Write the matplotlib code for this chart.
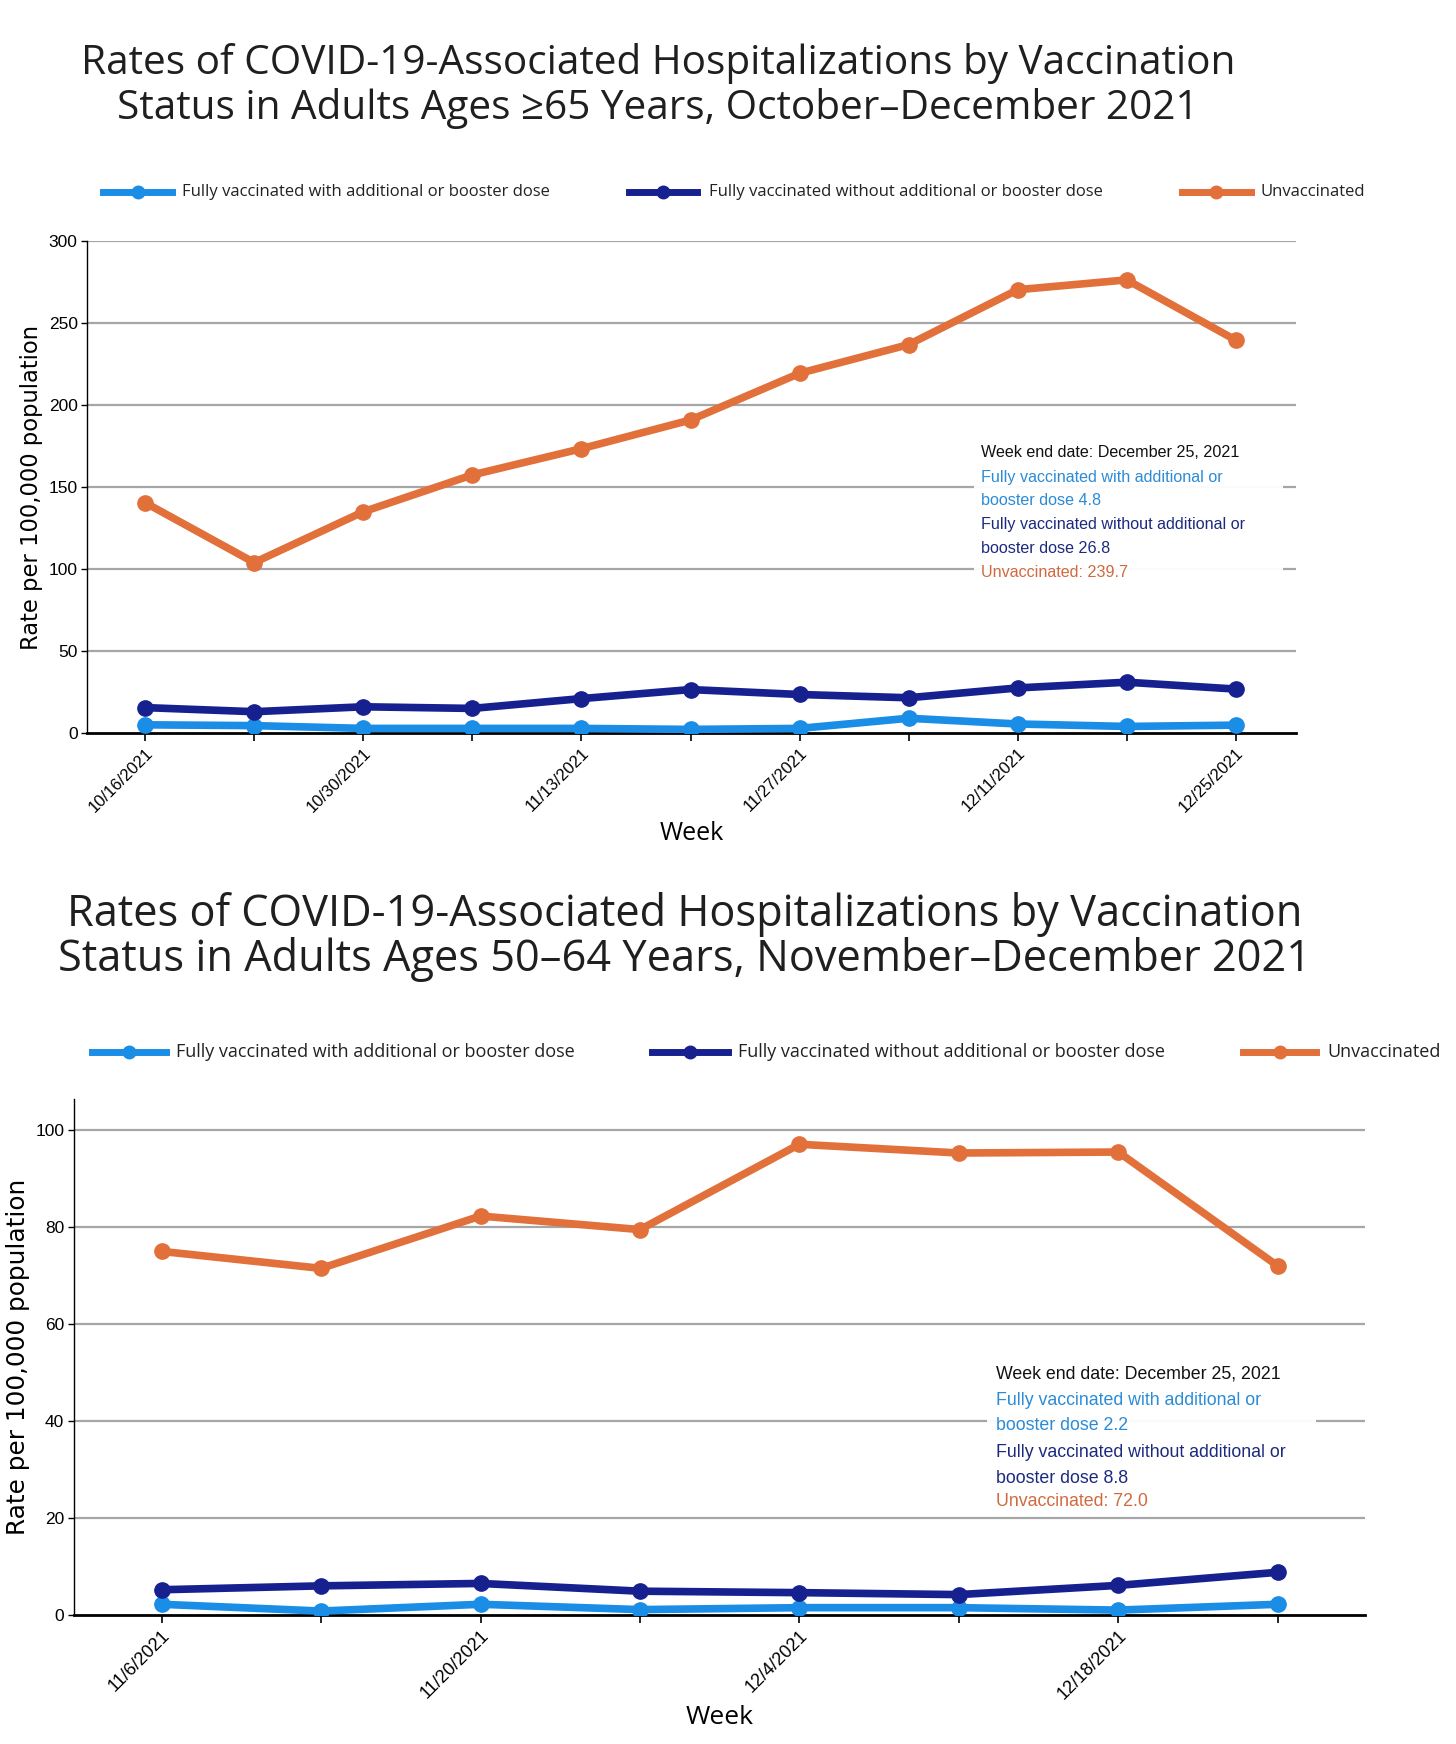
import numpy as np
import matplotlib.pyplot as plt
from matplotlib.lines import Line2D
from matplotlib.patches import Rectangle

# ---- data: adults 65+ ----
weeks_65 = ['10/16/2021', '10/23/2021', '10/30/2021', '11/6/2021', '11/13/2021', '11/20/2021',
            '11/27/2021', '12/4/2021', '12/11/2021', '12/18/2021', '12/25/2021']
booster_65 = [5.0, 4.5, 2.8, 2.8, 2.8, 2.2, 2.8, 9.0, 5.5, 4.0, 4.8]
no_booster_65 = [15.5, 13.0, 16.0, 15.0, 21.0, 26.5, 23.5, 21.5, 27.5, 31.0, 26.8]
unvacc_65 = [140.5, 104.0, 135.0, 157.5, 173.5, 191.0, 219.5, 237.0, 270.5, 276.5, 239.7]

# ---- data: adults 50-64 ----
weeks_50 = ['11/6/2021', '11/13/2021', '11/20/2021', '11/27/2021', '12/4/2021', '12/11/2021',
            '12/18/2021', '12/25/2021']
booster_50 = [2.2, 0.8, 2.2, 1.1, 1.5, 1.5, 1.0, 2.2]
no_booster_50 = [5.2, 6.0, 6.5, 4.9, 4.6, 4.2, 6.1, 8.8]
unvacc_50 = [75.0, 71.5, 82.3, 79.5, 97.1, 95.3, 95.5, 72.0]

series_names = ['Fully vaccinated with additional or booster dose',
                'Fully vaccinated without additional or booster dose',
                'Unvaccinated']
colors = ['#1a8de6', '#16218f', '#e2703a']
tip_colors = ['#2b8bd6', '#1c2a7e', '#d06a3e']

TITLE_FONT = ['Open Sans', 'DejaVu Sans']
TICK_FONT = ['Liberation Sans', 'DejaVu Sans']

fig = plt.figure(figsize=(14.56, 17.44), dpi=100)
fig.patch.set_facecolor('white')


def draw_panel(rect, weeks, data, ymax, yticks, xlim, ylab_size, xt_size, week_size, week_pad):
    ax = fig.add_axes(rect)
    x = np.arange(len(weeks))
    for vals, c in zip(data, colors):
        ax.plot(x, vals, color=c, lw=5.5, marker='o', ms=11, zorder=3, solid_capstyle='round')
    ax.set_xlim(*xlim)
    ax.set_ylim(0, ymax)
    ax.set_yticks(yticks)
    ax.set_yticklabels([str(t) for t in yticks], fontfamily=TICK_FONT, fontsize=12.5)
    for t in yticks[1:]:
        ax.axhline(t, color='#a6a6a6', lw=1.6, zorder=1)
    ax.set_xticks(x)
    ax.set_xticklabels([w if i % 2 == 0 else '' for i, w in enumerate(weeks)],
                       rotation=45, ha='right', rotation_mode='anchor',
                       fontfamily=TICK_FONT, fontsize=xt_size)
    ax.tick_params(axis='x', length=6, width=1.2, pad=3)
    ax.tick_params(axis='y', length=4, width=1, pad=3)
    for s in ['top', 'right']:
        ax.spines[s].set_visible(False)
    ax.spines['bottom'].set_linewidth(2)
    ax.spines['left'].set_linewidth(1)
    ax.set_ylabel('Rate per 100,000 population', fontsize=ylab_size, fontfamily='DejaVu Sans', labelpad=4)
    ax.set_xlabel('Week', fontsize=week_size, fontfamily=TITLE_FONT, labelpad=week_pad)
    return ax


def draw_title(lines, xc, ys, size):
    for line, y in zip(lines, ys):
        fig.text(xc, y, line, ha='center', va='center', fontsize=size,
                 fontfamily=TITLE_FONT, color='#1f1f1f')


def draw_legend(y, handle_x, text_x, size):
    for name, c, (x0, x1), tx in zip(series_names, colors, handle_x, text_x):
        fig.add_artist(Line2D([x0, x1], [y, y], transform=fig.transFigure, color=c, lw=5))
        fig.add_artist(Line2D([(x0 + x1) / 2], [y], transform=fig.transFigure, color=c,
                              marker='o', ms=9))
        fig.text(tx, y, name, ha='left', va='center', fontsize=size,
                 fontfamily=TITLE_FONT, color='#222222')


def draw_tip(box, tx, ys, data, size):
    fig.add_artist(Rectangle((box[0], box[1]), box[2], box[3], transform=fig.transFigure,
                             facecolor='white', edgecolor='none', alpha=0.95, zorder=5))
    lines = ['Week end date: December 25, 2021',
             'Fully vaccinated with additional or',
             'booster dose %.1f' % data[0][-1],
             'Fully vaccinated without additional or',
             'booster dose %.1f' % data[1][-1],
             'Unvaccinated: %.1f' % data[2][-1]]
    cols = ['#111111', tip_colors[0], tip_colors[0], tip_colors[1], tip_colors[1], tip_colors[2]]
    for line, c, y in zip(lines, cols, ys):
        fig.text(tx, y, line, ha='left', va='center', fontsize=size, color=c,
                 fontfamily=TICK_FONT, zorder=6)


# ---- top panel ----
draw_title(['Rates of COVID-19-Associated Hospitalizations by Vaccination',
            'Status in Adults Ages \u226565 Years, October\u2013December 2021'],
           0.452, [0.9636, 0.938], 29.2)
draw_legend(0.890, [(0.071, 0.118), (0.432, 0.479), (0.812, 0.859)],
            [0.125, 0.487, 0.866], 12)
data_65 = [booster_65, no_booster_65, unvacc_65]
draw_panel([0.060, 0.5797, 0.830, 0.2819], weeks_65, data_65, 300,
           [0, 50, 100, 150, 200, 250, 300], (-0.53, 10.55), 16.3, 12, 18, 4)
draw_tip([0.669, 0.663, 0.212, 0.085], 0.674,
         [0.7404, 0.7264, 0.713, 0.699, 0.6856, 0.6716], data_65, 11.6)

# ---- bottom panel ----
draw_title(['Rates of COVID-19-Associated Hospitalizations by Vaccination',
            'Status in Adults Ages 50\u201364 Years, November\u2013December 2021'],
           0.470, [0.4758, 0.450], 31.2)
draw_legend(0.397, [(0.063, 0.114), (0.448, 0.500), (0.854, 0.904)],
            [0.121, 0.507, 0.912], 13)
data_50 = [booster_50, no_booster_50, unvacc_50]
draw_panel([0.0508, 0.074, 0.887, 0.296], weeks_50, data_50, 106.5,
           [0, 20, 40, 60, 80, 100], (-0.55, 7.55), 17.8, 13, 19, 1)
draw_tip([0.678, 0.1325, 0.226, 0.0895], 0.684,
         [0.2124, 0.197, 0.1824, 0.167, 0.1524, 0.139], data_50, 12.8)

fig.savefig('out.png', dpi=100, facecolor='white')
